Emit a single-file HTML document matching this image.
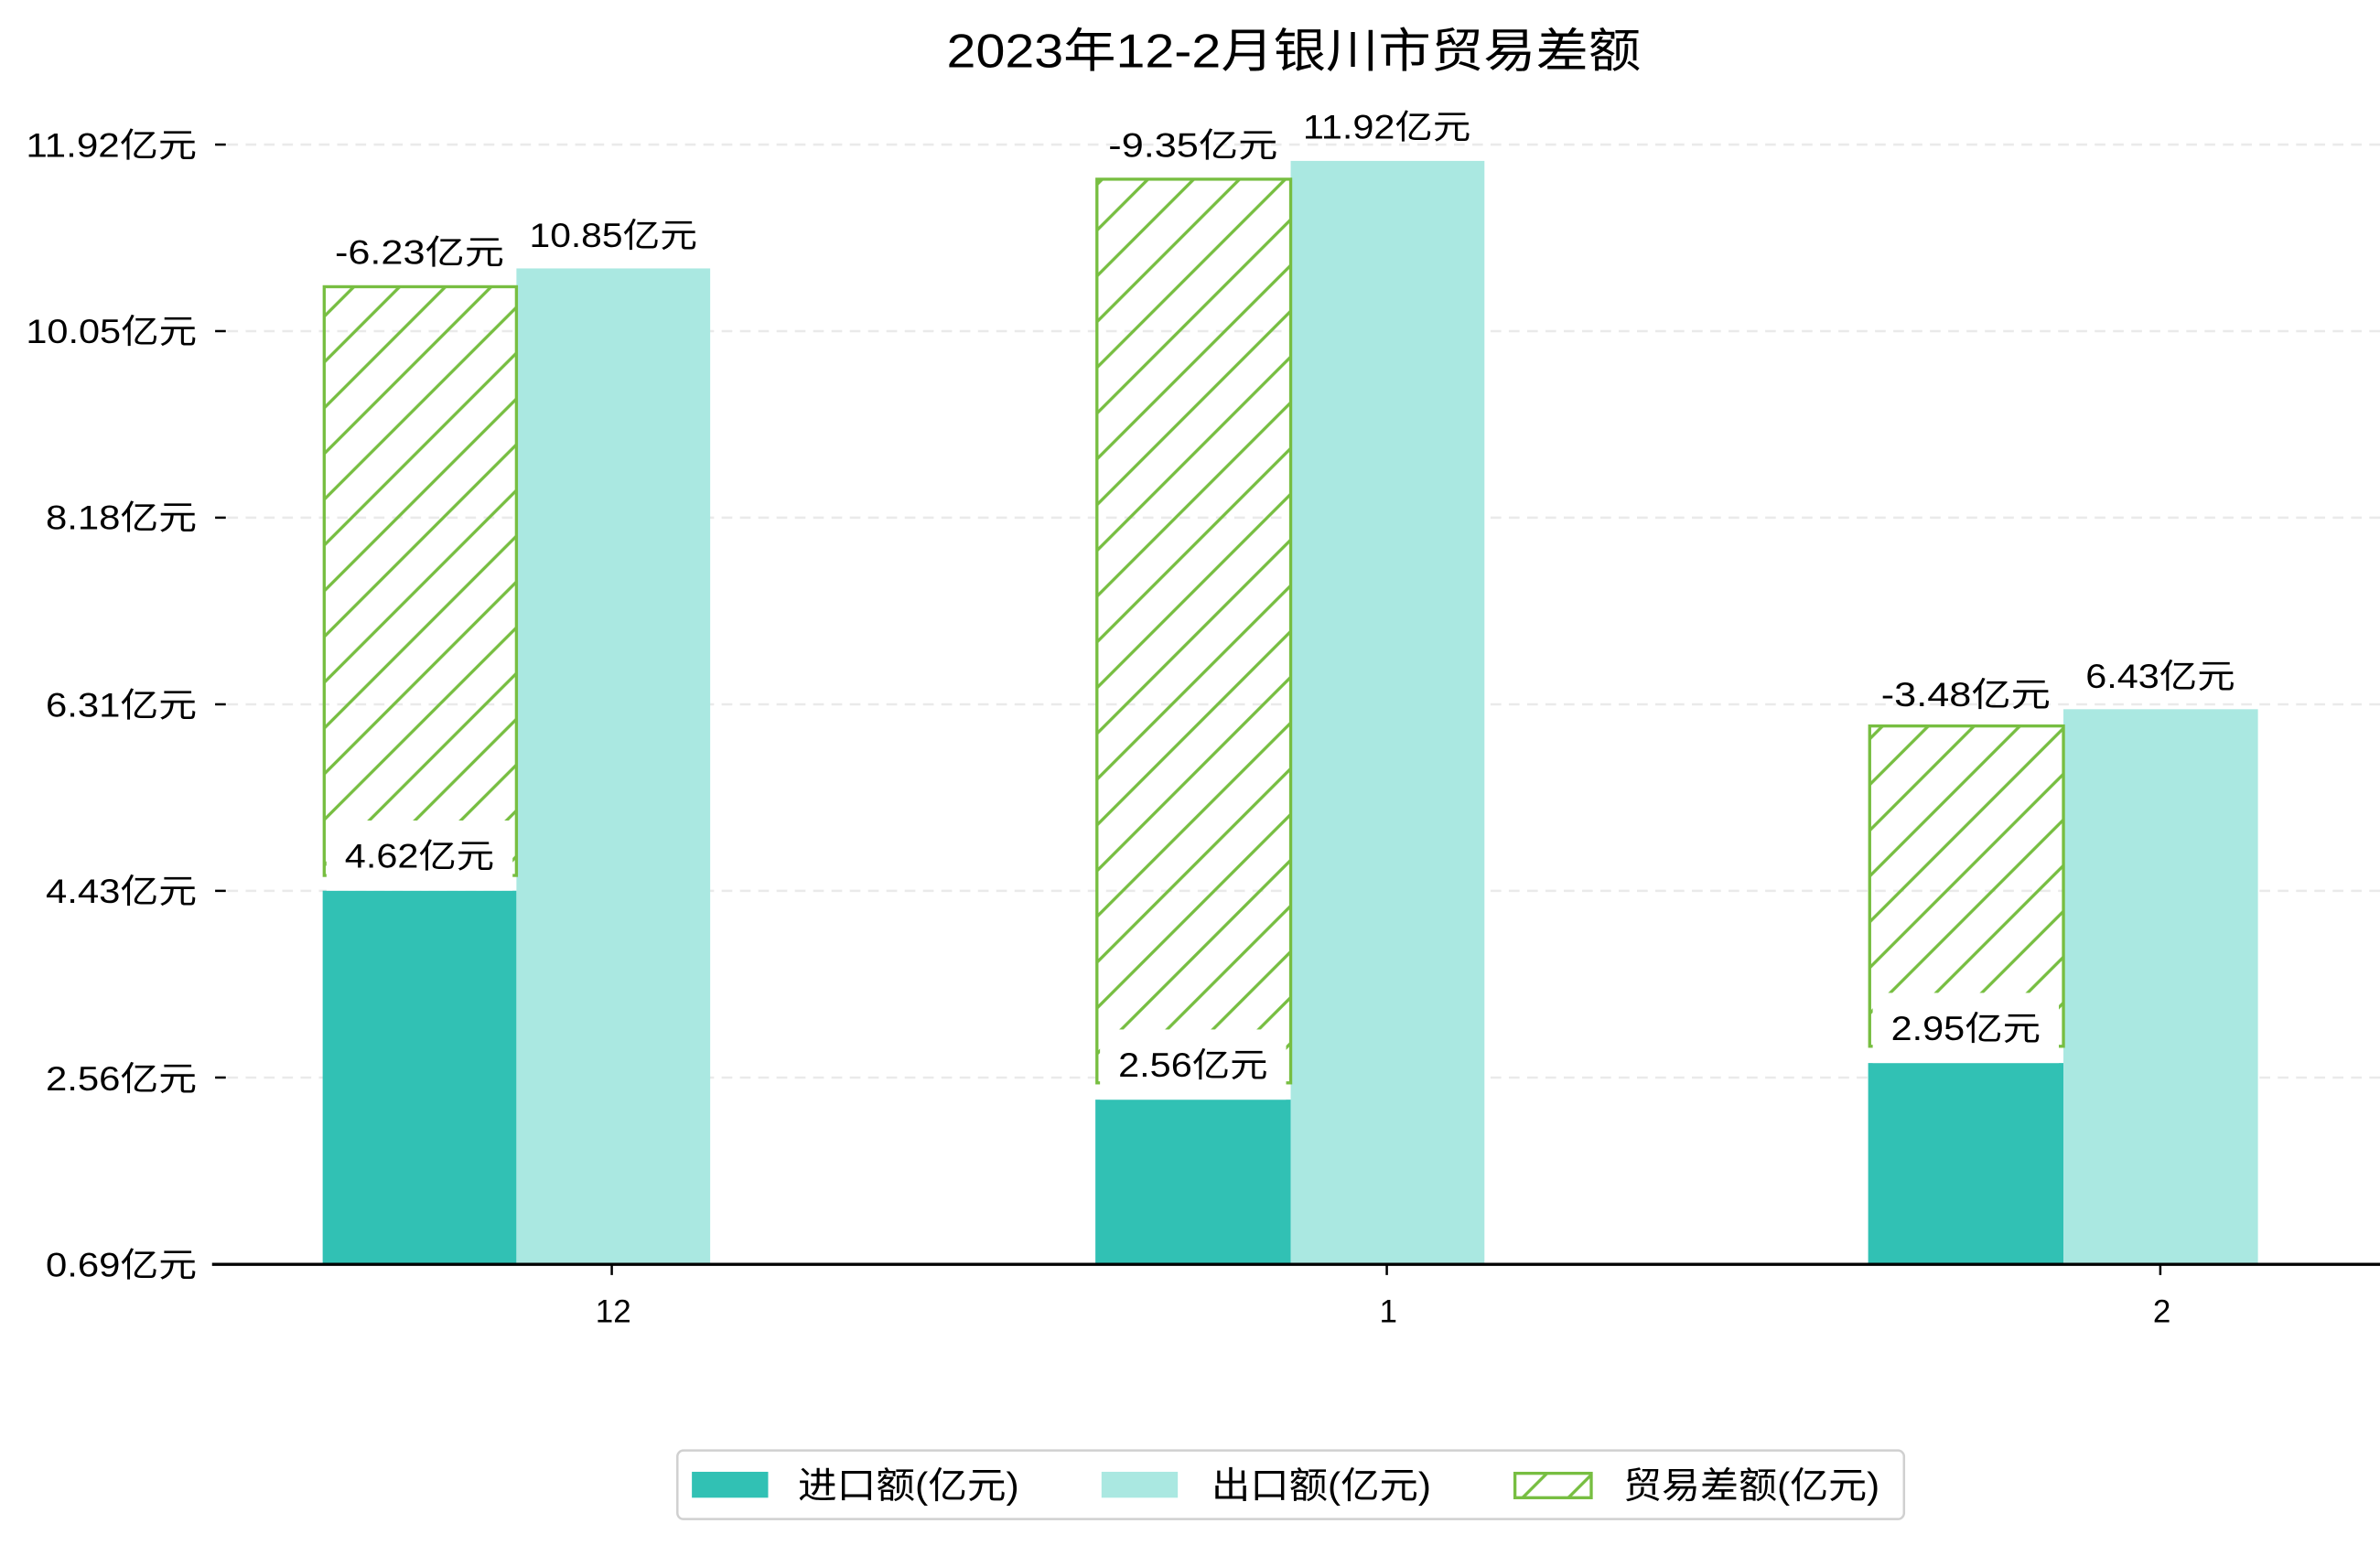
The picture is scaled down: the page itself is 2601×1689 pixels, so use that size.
<!DOCTYPE html>
<html><head><meta charset="utf-8"><style>html,body{margin:0;padding:0;background:#fff}svg{display:block}text{font-family:"Liberation Sans","Noto Sans CJK SC",sans-serif;fill:#000}</style></head>
<body>
<svg width="2601" height="1689" viewBox="0 0 1560 1013" preserveAspectRatio="none" xmlns="http://www.w3.org/2000/svg">
<defs>
<pattern id="h" patternUnits="userSpaceOnUse" width="30" height="30">
<path d="M-5,35 L35,-5 M-5,5 L5,-5 M25,35 L35,25" stroke="#77be41" stroke-width="2"/>
</pattern>
</defs>
<rect width="1560" height="1013" fill="#fff"/>
<text x="848" y="44" font-size="31" text-anchor="middle" textLength="455" lengthAdjust="spacingAndGlyphs">2023年12-2月银川市贸易差额</text>
<g stroke="#eaeaea" stroke-width="1.5" stroke-dasharray="7,5">
<line x1="149" y1="94.8" x2="1560" y2="94.8"/><line x1="149" y1="217.1" x2="1560" y2="217.1"/><line x1="149" y1="339.4" x2="1560" y2="339.4"/><line x1="149" y1="461.8" x2="1560" y2="461.8"/><line x1="149" y1="584.1" x2="1560" y2="584.1"/><line x1="149" y1="706.5" x2="1560" y2="706.5"/>
</g>
<g font-size="22" text-anchor="end">
<text x="129" y="103" textLength="112" lengthAdjust="spacingAndGlyphs">11.92亿元</text>
<text x="129" y="225" textLength="112" lengthAdjust="spacingAndGlyphs">10.05亿元</text>
<text x="129" y="347" textLength="99" lengthAdjust="spacingAndGlyphs">8.18亿元</text>
<text x="129" y="470" textLength="99" lengthAdjust="spacingAndGlyphs">6.31亿元</text>
<text x="129" y="592" textLength="99" lengthAdjust="spacingAndGlyphs">4.43亿元</text>
<text x="129" y="715" textLength="99" lengthAdjust="spacingAndGlyphs">2.56亿元</text>
<text x="129" y="837" textLength="99" lengthAdjust="spacingAndGlyphs">0.69亿元</text>
</g>
<g stroke="#000" stroke-width="1.5">
<line x1="141" y1="94.8" x2="148" y2="94.8"/><line x1="141" y1="217.1" x2="148" y2="217.1"/><line x1="141" y1="339.4" x2="148" y2="339.4"/><line x1="141" y1="461.8" x2="148" y2="461.8"/><line x1="141" y1="584.1" x2="148" y2="584.1"/><line x1="141" y1="706.5" x2="148" y2="706.5"/>
</g>
<!-- group 12 -->
<rect x="211.5" y="584" width="127" height="245" fill="#31c1b4"/>
<rect x="338.5" y="176" width="127" height="653" fill="#aae8e1"/>
<rect x="212.5" y="188" width="126" height="386" fill="url(#h)" stroke="#77be41" stroke-width="2"/>
<!-- group 1 -->
<rect x="718" y="721" width="128" height="108" fill="#31c1b4"/>
<rect x="846" y="105.5" width="127" height="723.5" fill="#aae8e1"/>
<rect x="719" y="117.5" width="127" height="592.5" fill="url(#h)" stroke="#77be41" stroke-width="2"/>
<!-- group 2 -->
<rect x="1224.5" y="697" width="128" height="132" fill="#31c1b4"/>
<rect x="1352.5" y="465" width="127.5" height="364" fill="#aae8e1"/>
<rect x="1225.5" y="476" width="127" height="210" fill="url(#h)" stroke="#77be41" stroke-width="2"/>
<!-- label boxes -->
<rect x="214" y="538" width="122" height="46" fill="#fff"/>
<rect x="721" y="675" width="122" height="46" fill="#fff"/>
<rect x="1227.5" y="651" width="122" height="46" fill="#fff"/>
<g font-size="22" text-anchor="middle">
<text x="275" y="569" textLength="98" lengthAdjust="spacingAndGlyphs">4.62亿元</text>
<text x="782" y="706" textLength="98" lengthAdjust="spacingAndGlyphs">2.56亿元</text>
<text x="1288.5" y="682" textLength="98" lengthAdjust="spacingAndGlyphs">2.95亿元</text>
<text x="275" y="173" textLength="111" lengthAdjust="spacingAndGlyphs">-6.23亿元</text>
<text x="402" y="162" textLength="110" lengthAdjust="spacingAndGlyphs">10.85亿元</text>
<text x="782" y="103" textLength="111" lengthAdjust="spacingAndGlyphs">-9.35亿元</text>
<text x="909" y="91" textLength="110" lengthAdjust="spacingAndGlyphs">11.92亿元</text>
<text x="1288.5" y="463" textLength="111" lengthAdjust="spacingAndGlyphs">-3.48亿元</text>
<text x="1416" y="451" textLength="98" lengthAdjust="spacingAndGlyphs">6.43亿元</text>
</g>
<line x1="139" y1="829" x2="1560" y2="829" stroke="#000" stroke-width="2"/>
<g stroke="#000" stroke-width="1.5">
<line x1="401" y1="829" x2="401" y2="836"/><line x1="909" y1="829" x2="909" y2="836"/><line x1="1416" y1="829" x2="1416" y2="836"/>
</g>
<g font-size="21" text-anchor="middle">
<text x="402" y="867">12</text><text x="910" y="867">1</text><text x="1417" y="867">2</text>
</g>
<!-- legend -->
<rect x="444" y="951" width="804" height="45" rx="4" fill="#fff" stroke="#d0d0d0" stroke-width="1.5"/>
<rect x="453.5" y="965" width="50" height="17" fill="#31c1b4"/>
<rect x="722" y="965" width="50" height="17" fill="#aae8e1"/>
<rect x="993" y="966" width="50" height="16" fill="url(#h)" stroke="#77be41" stroke-width="2"/>
<g font-size="24">
<text x="523" y="982" textLength="145" lengthAdjust="spacingAndGlyphs">进口额(亿元)</text>
<text x="794" y="982" textLength="144" lengthAdjust="spacingAndGlyphs">出口额(亿元)</text>
<text x="1064" y="982" textLength="168" lengthAdjust="spacingAndGlyphs">贸易差额(亿元)</text>
</g>
</svg>
</body></html>
